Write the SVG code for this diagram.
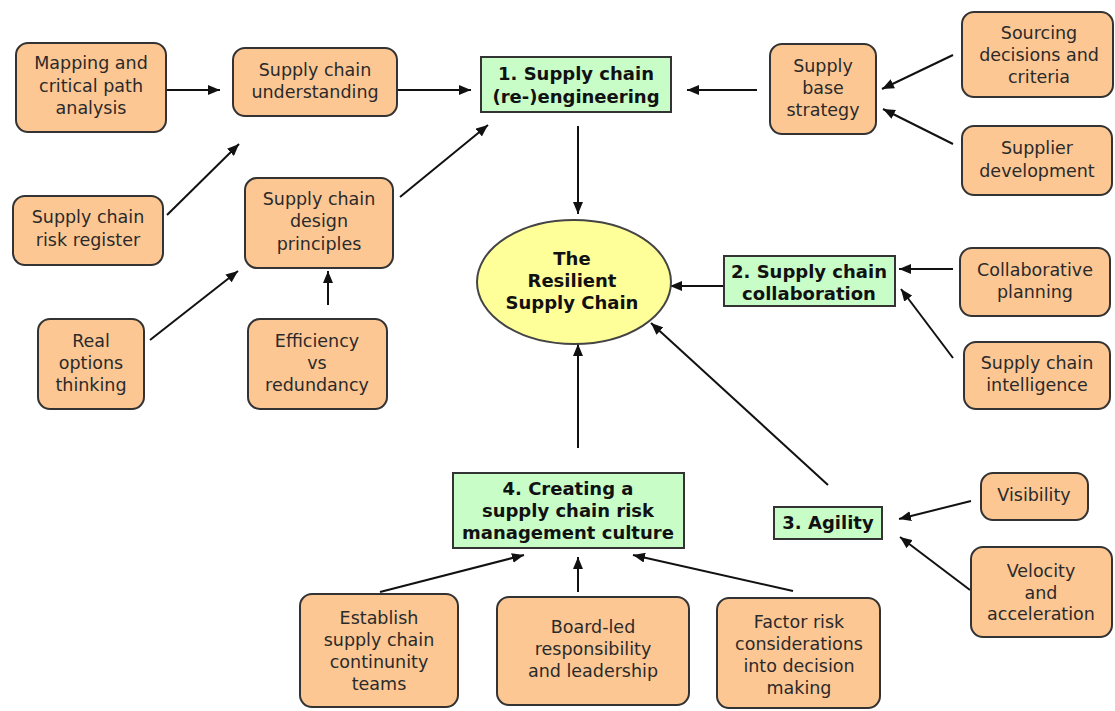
<svg xmlns="http://www.w3.org/2000/svg" width="1115" height="711" viewBox="0 0 1115 711">
  <defs>
    <marker id="arrow" viewBox="0 0 12 10" refX="12" refY="5" markerWidth="12" markerHeight="10" markerUnits="userSpaceOnUse" orient="auto">
      <path d="M0,0 L12,5 L0,10 Z" fill="#111"/>
    </marker>
    <style>
      .item rect { fill: #fdc794; stroke: #333; stroke-width: 2; }
      .pillar rect { fill: #c8fdc8; stroke: #333; stroke-width: 2; }
      .core ellipse { fill: #ffff99; stroke: #444; stroke-width: 2; }
      text { font-family: "DejaVu Sans", Verdana, sans-serif; font-size: 17.5px; fill: #2a2a2a; text-anchor: middle; }
      .pillar text, .core text { font-weight: bold; font-size: 18px; fill: #111; }
      #connectors line { stroke: #111; stroke-width: 2; marker-end: url(#arrow); }
    </style>
  </defs>
  <rect width="1115" height="711" fill="#fff"/>

  <!-- connectors -->
  <g id="connectors">
    <line x1="166" y1="90" x2="220" y2="90"/>
    <line x1="397" y1="90" x2="471" y2="90"/>
    <line x1="167" y1="215" x2="239" y2="144"/>
    <line x1="400" y1="197" x2="488" y2="125"/>
    <line x1="150" y1="340" x2="238" y2="271"/>
    <line x1="328" y1="305" x2="328" y2="271"/>
    <line x1="757" y1="90" x2="687" y2="90"/>
    <line x1="953" y1="55" x2="882" y2="89"/>
    <line x1="953" y1="144" x2="883" y2="109"/>
    <line x1="578" y1="126" x2="578" y2="214"/>
    <line x1="724" y1="286" x2="670" y2="286"/>
    <line x1="953" y1="269" x2="899" y2="269"/>
    <line x1="953" y1="358" x2="901" y2="289"/>
    <line x1="578" y1="448" x2="578" y2="344"/>
    <line x1="828" y1="485" x2="651" y2="323"/>
    <line x1="380" y1="592" x2="524" y2="555"/>
    <line x1="578" y1="592" x2="578" y2="557"/>
    <line x1="793" y1="591" x2="633" y2="555"/>
    <line x1="971" y1="501" x2="899" y2="519"/>
    <line x1="970" y1="590" x2="900" y2="537"/>
  </g>

  <!-- central goal -->
  <g id="resilient" class="core">
    <ellipse cx="574" cy="282" rx="97" ry="62"/>
    <text x="572" y="265">The</text>
    <text x="572" y="287">Resilient</text>
    <text x="572" y="309">Supply Chain</text>
  </g>

  <!-- four pillars -->
  <g id="engineering" class="pillar">
    <rect x="481" y="57" width="190" height="55"/>
    <text x="576" y="80">1. Supply chain</text>
    <text x="576" y="103">(re-)engineering</text>
  </g>
  <g id="collaboration" class="pillar">
    <rect x="724" y="256" width="171" height="50"/>
    <text x="809" y="278">2. Supply chain</text>
    <text x="809" y="300">collaboration</text>
  </g>
  <g id="agility" class="pillar">
    <rect x="774" y="507" width="108" height="32"/>
    <text x="828" y="529">3. Agility</text>
  </g>
  <g id="culture" class="pillar">
    <rect x="453" y="473" width="231" height="75"/>
    <text x="568" y="495">4. Creating a</text>
    <text x="568" y="517">supply chain risk</text>
    <text x="568" y="539">management culture</text>
  </g>

  <!-- contributing factors -->
  <g id="mapping" class="item">
    <rect x="16" y="43" width="150" height="89" rx="12"/>
    <text x="91" y="69">Mapping and</text>
    <text x="91" y="92">critical path</text>
    <text x="91" y="114">analysis</text>
  </g>
  <g id="understanding" class="item">
    <rect x="233" y="48" width="164" height="68" rx="12"/>
    <text x="315" y="76">Supply chain</text>
    <text x="315" y="98">understanding</text>
  </g>
  <g id="register" class="item">
    <rect x="13" y="196" width="150" height="69" rx="12"/>
    <text x="88" y="223">Supply chain</text>
    <text x="88" y="246">risk register</text>
  </g>
  <g id="design" class="item">
    <rect x="245" y="178" width="148" height="90" rx="12"/>
    <text x="319" y="205">Supply chain</text>
    <text x="319" y="227">design</text>
    <text x="319" y="250">principles</text>
  </g>
  <g id="options" class="item">
    <rect x="38" y="319" width="106" height="90" rx="12"/>
    <text x="91" y="347">Real</text>
    <text x="91" y="369">options</text>
    <text x="91" y="391">thinking</text>
  </g>
  <g id="efficiency" class="item">
    <rect x="248" y="319" width="139" height="90" rx="12"/>
    <text x="317" y="347">Efficiency</text>
    <text x="317" y="369">vs</text>
    <text x="317" y="391">redundancy</text>
  </g>
  <g id="supplybase" class="item">
    <rect x="770" y="44" width="106" height="90" rx="12"/>
    <text x="823" y="72">Supply</text>
    <text x="823" y="94">base</text>
    <text x="823" y="116">strategy</text>
  </g>
  <g id="sourcing" class="item">
    <rect x="962" y="12" width="151" height="85" rx="12"/>
    <text x="1039" y="39">Sourcing</text>
    <text x="1039" y="61">decisions and</text>
    <text x="1039" y="83">criteria</text>
  </g>
  <g id="supplierdev" class="item">
    <rect x="962" y="126" width="150" height="69" rx="12"/>
    <text x="1037" y="154">Supplier</text>
    <text x="1037" y="177">development</text>
  </g>
  <g id="planning" class="item">
    <rect x="960" y="248" width="150" height="68" rx="12"/>
    <text x="1035" y="276">Collaborative</text>
    <text x="1035" y="298">planning</text>
  </g>
  <g id="intelligence" class="item">
    <rect x="964" y="342" width="146" height="67" rx="12"/>
    <text x="1037" y="369">Supply chain</text>
    <text x="1037" y="391">intelligence</text>
  </g>
  <g id="visibility" class="item">
    <rect x="981" y="473" width="107" height="47" rx="12"/>
    <text x="1034" y="501">Visibility</text>
  </g>
  <g id="velocity" class="item">
    <rect x="971" y="547" width="141" height="90" rx="12"/>
    <text x="1041" y="577">Velocity</text>
    <text x="1041" y="599">and</text>
    <text x="1041" y="620">acceleration</text>
  </g>
  <g id="teams" class="item">
    <rect x="300" y="594" width="158" height="113" rx="12"/>
    <text x="379" y="624">Establish</text>
    <text x="379" y="646">supply chain</text>
    <text x="379" y="668">continunity</text>
    <text x="379" y="690">teams</text>
  </g>
  <g id="board" class="item">
    <rect x="497" y="597" width="192" height="108" rx="12"/>
    <text x="593" y="633">Board-led</text>
    <text x="593" y="655">responsibility</text>
    <text x="593" y="677">and leadership</text>
  </g>
  <g id="factor" class="item">
    <rect x="717" y="598" width="163" height="110" rx="12"/>
    <text x="799" y="628">Factor risk</text>
    <text x="799" y="650">considerations</text>
    <text x="799" y="672">into decision</text>
    <text x="799" y="694">making</text>
  </g>
</svg>
